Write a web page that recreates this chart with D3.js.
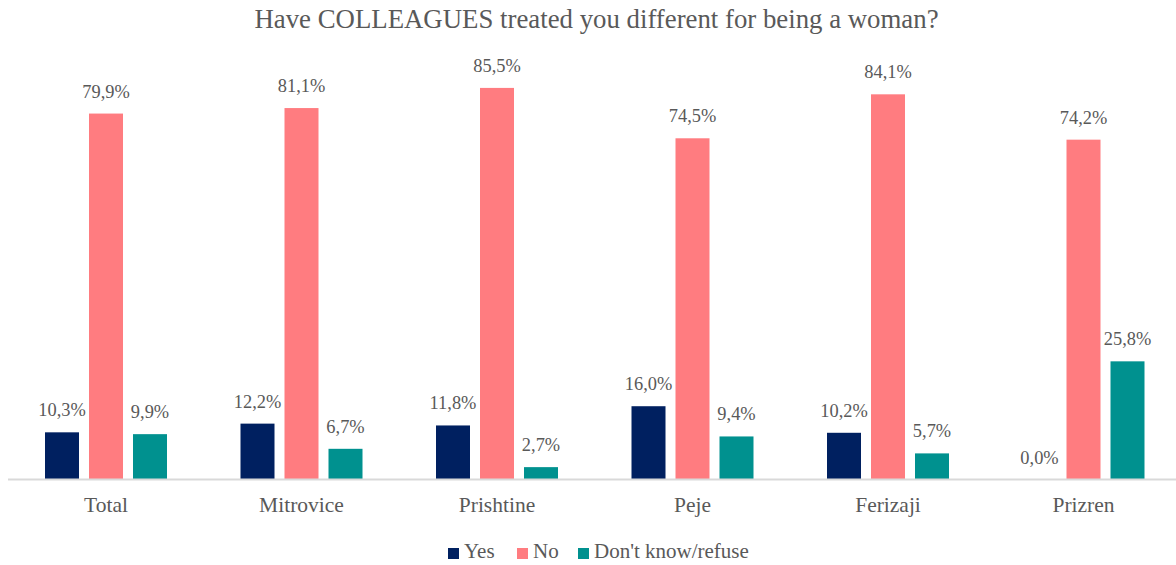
<!DOCTYPE html>
<html>
<head>
<meta charset="utf-8">
<script src="https://cdn.jsdelivr.net/npm/d3@7"></script>
<style>
  html, body { margin: 0; padding: 0; background: #fff; }
  svg text { font-family: "Liberation Serif", "Times New Roman", serif !important; }
</style>
</head>
<body>
<svg id="chart" width="1176" height="565"></svg>
<script>
// Survey breakdown by region (percent of respondents)
const categories = ["Total", "Mitrovice", "Prishtine", "Peje", "Ferizaji", "Prizren"];
const seriesNames = ["Yes", "No", "Don't know/refuse"];
const yesValues = [10.3, 12.2, 11.8, 16.0, 10.2, 0.0];
const noValues = [79.9, 81.1, 85.5, 74.5, 84.1, 74.2];
const dkValues = [9.9, 6.7, 2.7, 9.4, 5.7, 25.8];
const seriesColors = ["#002060", "#FF7C80", "#00918F"];
const titleText = "Have COLLEAGUES treated you different for being a woman?";

const seriesValues = [yesValues, noValues, dkValues];
const textColor = "#595959";
const serif = "'Liberation Serif', 'Times New Roman', serif";

const svg = d3.select("#chart");
const W = 1176, H = 565;
const baseY = 479.5;

// Category band for each region, then an inner band for the three answers
const x0 = d3.scaleBand().domain(categories).range([8.25, 1181.25]).padding(0);
const x1 = d3.scaleBand().domain(seriesNames)
  .range([36.75, 158.75]).paddingInner(10 / 44).paddingOuter(0);
const y = d3.scaleLinear().domain([0, 100]).range([baseY, baseY - 458]);

// Title
svg.append("text")
  .attr("x", 596.5).attr("y", 27.5)
  .attr("text-anchor", "middle")
  .attr("fill", textColor)
  .attr("font-family", serif)
  .style("font-size", "26.8px")
  .text(titleText);

// Bars and their value labels
const groups = svg.append("g").selectAll("g")
  .data(categories)
  .join("g")
  .attr("transform", d => `translate(${x0(d)},0)`);

const fmt = v => v.toFixed(1).replace(".", ",") + "%";

groups.each(function (cat, ci) {
  const g = d3.select(this);
  const rows = seriesNames.map((s, si) => ({ s, si, v: seriesValues[si][ci] }));
  g.selectAll("rect")
    .data(rows.filter(r => r.v > 0))
    .join("rect")
    .attr("x", r => x1(r.s))
    .attr("width", x1.bandwidth())
    .attr("y", r => y(r.v))
    .attr("height", r => baseY - y(r.v))
    .attr("fill", r => seriesColors[r.si]);
  g.selectAll("text.val")
    .data(rows)
    .join("text")
    .attr("class", "val")
    .attr("x", r => x1(r.s) + x1.bandwidth() / 2)
    .attr("y", r => y(r.v) - 16)
    .attr("text-anchor", "middle")
    .attr("fill", textColor)
    .attr("font-family", serif)
    .style("font-size", "18.4px")
    .text(r => fmt(r.v));
});

// Category axis
const xAxis = svg.append("g")
  .attr("transform", `translate(0,${baseY})`)
  .call(d3.axisBottom(x0).tickSize(0).tickPadding(17));
xAxis.attr("font-family", serif);
xAxis.select(".domain").attr("stroke", "#d9d9d9").attr("stroke-width", 2)
  .attr("d", `M8,0H${W}`);
xAxis.selectAll("text")
  .attr("fill", textColor)
  .attr("font-family", serif)
  .style("font-size", "21.5px");

// Legend
const legendItems = [
  { name: seriesNames[0], color: seriesColors[0], sx: 448 },
  { name: seriesNames[1], color: seriesColors[1], sx: 517 },
  { name: seriesNames[2], color: seriesColors[2], sx: 578 }
];
const legend = svg.append("g");
legendItems.forEach(it => {
  legend.append("rect")
    .attr("x", it.sx).attr("y", 548)
    .attr("width", 11).attr("height", 11)
    .attr("fill", it.color);
  legend.append("text")
    .attr("x", it.sx + 16).attr("y", 558)
    .attr("fill", textColor)
    .attr("font-family", serif)
    .style("font-size", "21px")
    .text(it.name);
});
</script>
</body>
</html>
